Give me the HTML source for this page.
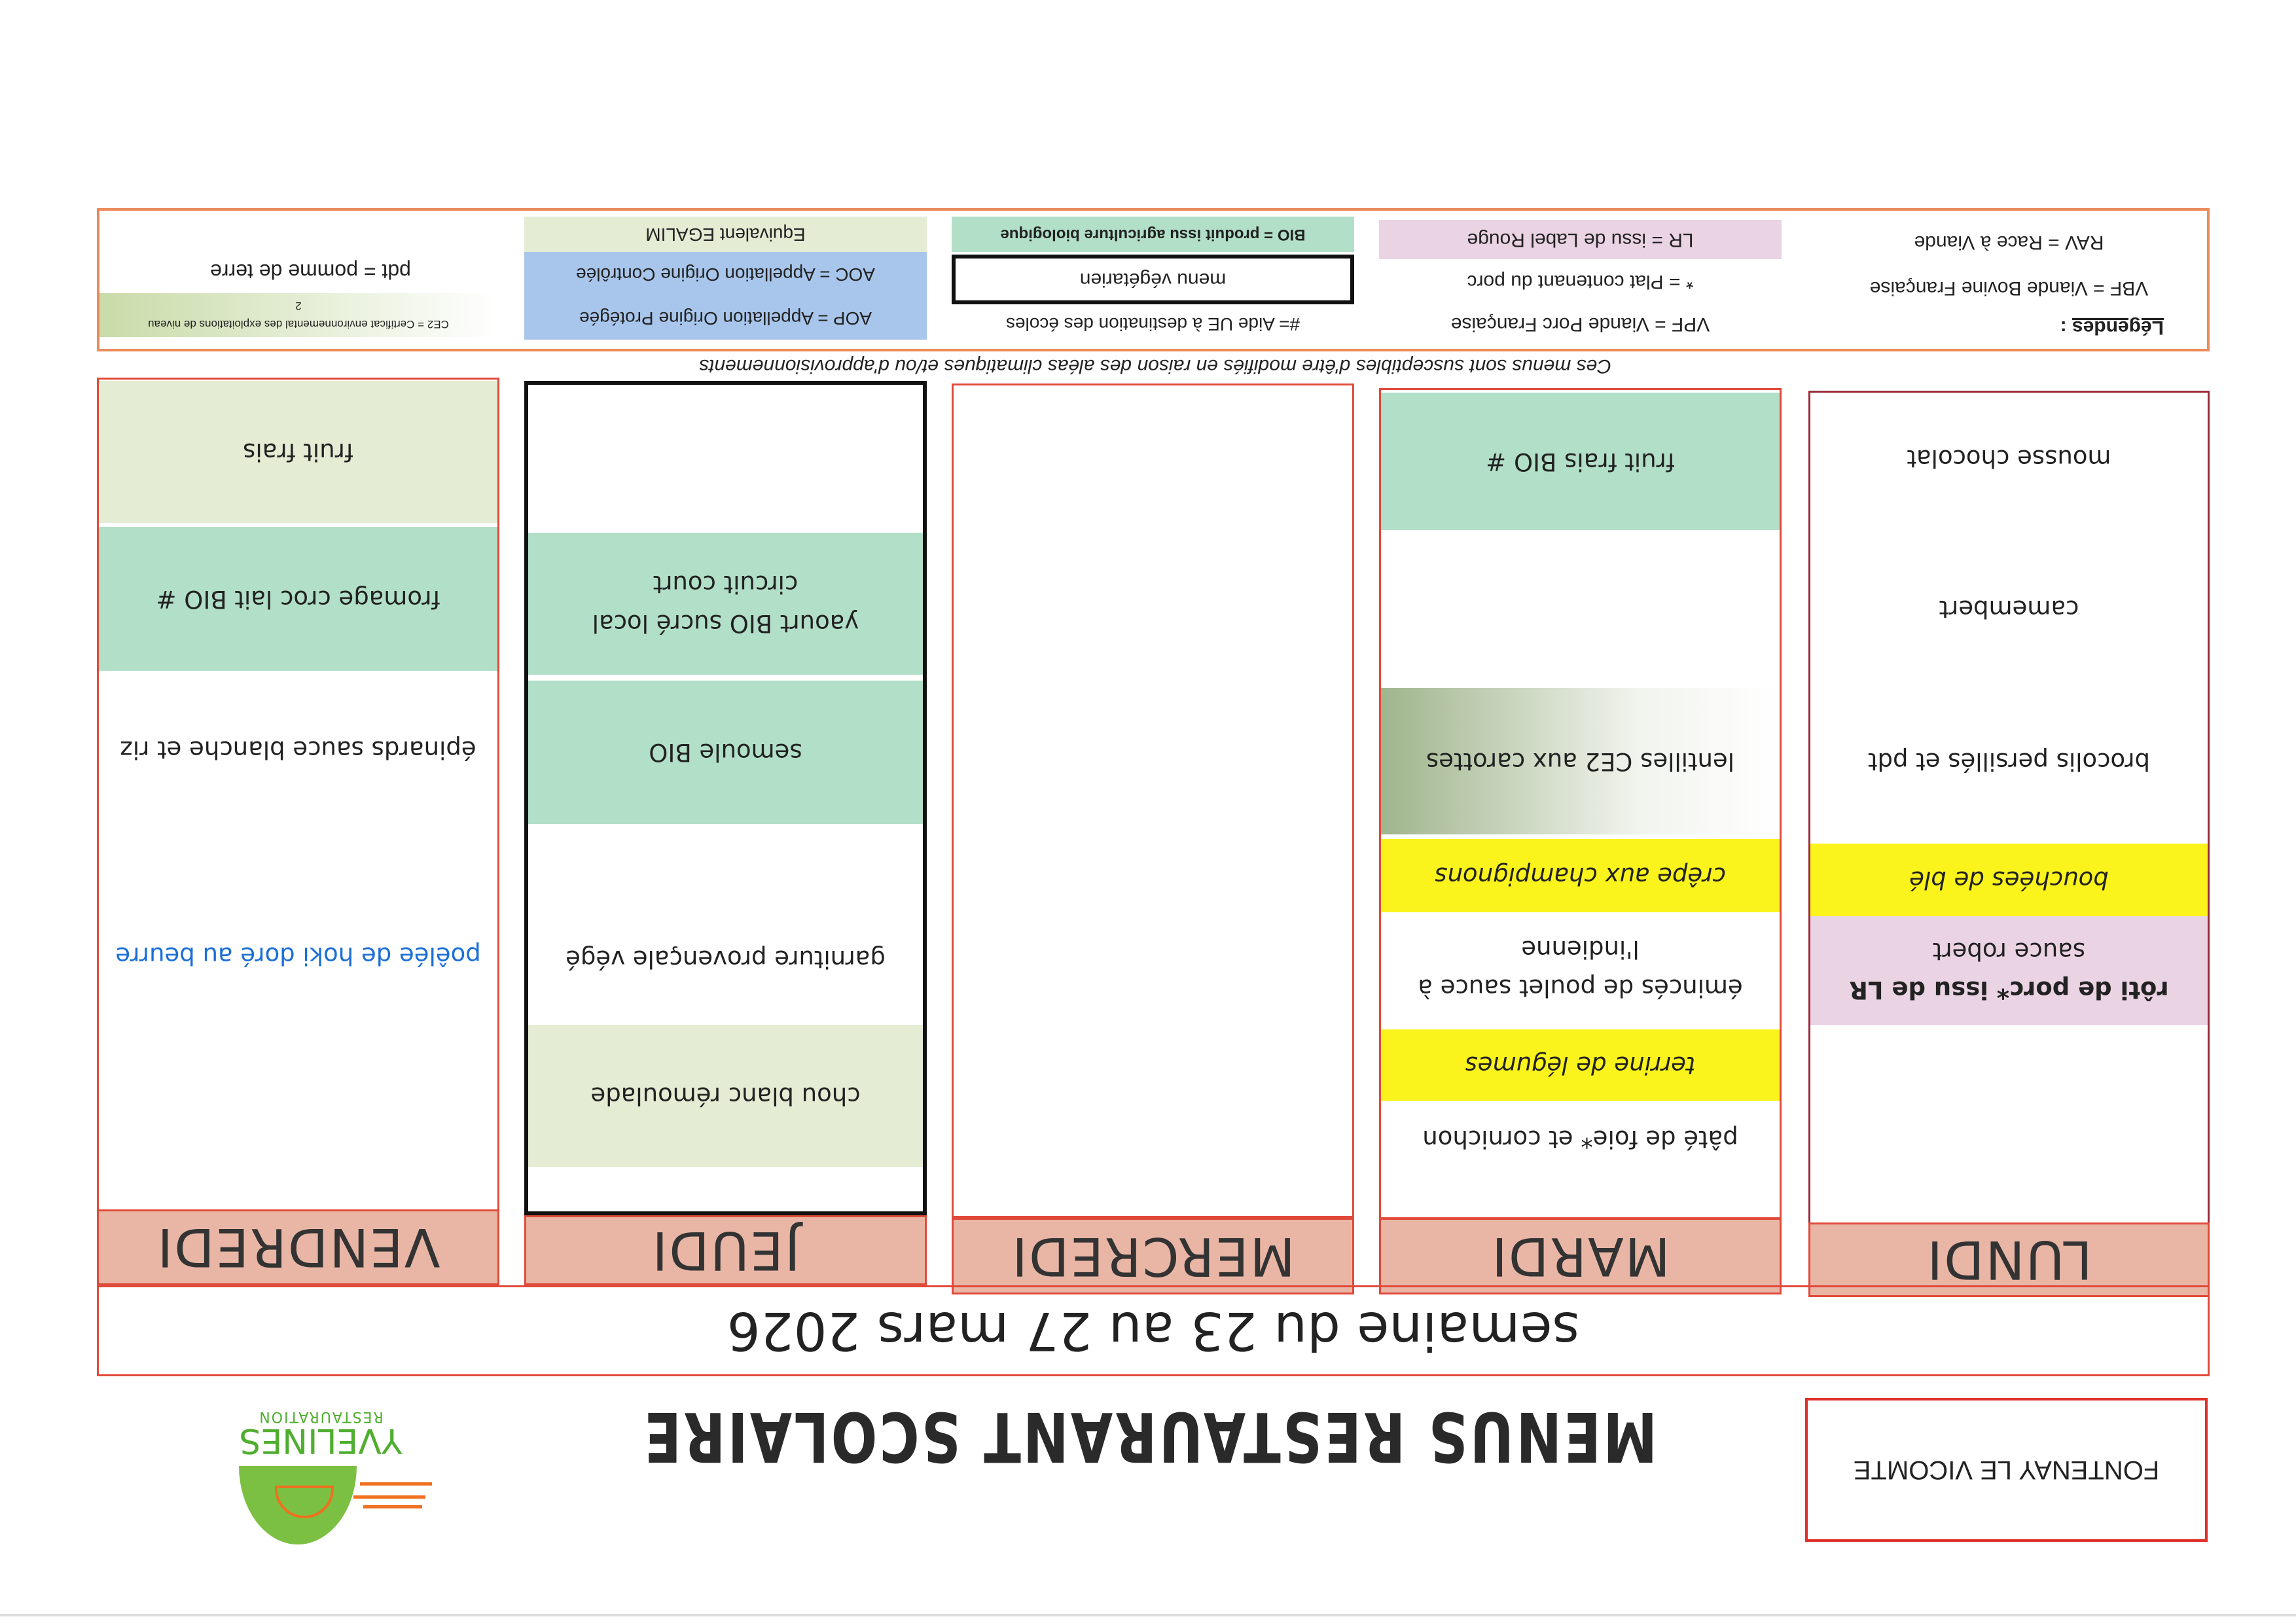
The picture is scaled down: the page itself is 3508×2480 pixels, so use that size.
<!DOCTYPE html>
<html><head><meta charset="utf-8"><style>
*{box-sizing:border-box;margin:0;padding:0}
body{width:3508px;height:2480px;background:#fff;position:relative;overflow:hidden;font-family:"DejaVu Sans","Liberation Sans",sans-serif;color:#222}
.b{position:absolute;display:flex;align-items:center;justify-content:center;text-align:center;transform:rotate(180deg)}
.t{font-size:37px;line-height:1.6}
.lg{font-size:28px;font-family:"Liberation Sans",sans-serif}
.day{font-size:80px;color:#333;letter-spacing:2px;background:#e9b6a6;border:3px solid #e04a3a}
.mint{background:#b2dfc8}
.lgreen{background:#e4ecd4}
.yel{background:#fbf41c}
.pink{background:#ead3e3}
.col{position:absolute;border:3px solid #e04a3a;background:#fff}
</style></head><body>

<!-- legend -->
<div class="col" style="left:148px;top:318px;width:3228px;height:219px;border-color:#ec8a5a;border-width:4px"></div>
<div class="b lgreen lg" style="left:801px;top:331px;width:615px;height:54px">Equivalent EGALIM</div>
<div class="b lg" style="left:801px;top:385px;width:615px;height:69px;background:#a8c6ec">AOC = Appellation Origine Contrôlée</div>
<div class="b lg" style="left:801px;top:454px;width:615px;height:65px;background:#a8c6ec">AOP = Appellation Origine Protégée</div>
<div class="b mint lg" style="left:1454px;top:331px;width:615px;height:54px;font-weight:bold;font-size:24px">BIO = produit issu agriculture biologique</div>
<div class="b lg" style="left:1454px;top:389px;width:615px;height:76px;border:6px solid #111;font-size:30px">menu végétarien</div>
<div class="b lg" style="left:1454px;top:470px;width:615px;height:50px">#= Aide UE à destination des écoles</div>
<div class="b pink lg" style="left:2107px;top:336px;width:615px;height:60px;font-size:30px">LR = issu de Label Rouge</div>
<div class="b lg" style="left:2107px;top:405px;width:615px;height:50px;font-size:30px">* = Plat contenant du porc</div>
<div class="b lg" style="left:2107px;top:470px;width:615px;height:50px;font-size:30px">VPF = Viande Porc Française</div>
<div class="b lg" style="left:2763px;top:345px;width:613px;height:50px;font-size:30px">RAV = Race à Viande</div>
<div class="b lg" style="left:2763px;top:415px;width:613px;height:50px;font-size:30px">VBF = Viande Bovine Française</div>
<div class="b lg" style="left:2763px;top:475px;width:613px;height:50px;justify-content:flex-start;padding-left:70px;font-size:30px"><b><u>Légendes</u> :</b></div>
<div class="b lg" style="left:148px;top:390px;width:653px;height:50px;font-size:32px">pdt = pomme de terre</div>
<div class="b" style="left:152px;top:448px;width:608px;height:67px;background:linear-gradient(to right,#fff,#c9dba8);font-size:17px;line-height:1.6;font-family:'Liberation Sans',sans-serif">CE2 = Certificat environnemental des exploitations de niveau<br>2</div>

<div class="b" style="left:940px;top:535px;width:1650px;height:48px;font-style:italic;font-size:30px;font-family:'Liberation Sans',sans-serif">Ces menus sont susceptibles d'être modifiés en raison des aléas climatiques et/ou d'approvisionnements</div>

<!-- VENDREDI -->
<div class="col" style="left:148px;top:577px;width:615px;height:1275px"></div>
<div class="b lgreen t" style="left:151px;top:582px;width:609px;height:217px">fruit frais</div>
<div class="b mint t" style="left:151px;top:805px;width:609px;height:220px">fromage croc lait BIO #</div>
<div class="b t" style="left:151px;top:1100px;width:609px;height:90px">épinards sauce blanche et riz</div>
<div class="b t" style="left:151px;top:1415px;width:609px;height:90px;color:#1a6fd6">poêlée de hoki doré au beurre</div>
<div class="b day" style="left:148px;top:1848px;width:615px;height:116px">VENDREDI</div>

<!-- JEUDI -->
<div class="col" style="left:801px;top:582px;width:615px;height:1275px;border:6px solid #111"></div>
<div class="b mint t" style="left:807px;top:814px;width:603px;height:217px">yaourt BIO sucré local<br>circuit court</div>
<div class="b mint t" style="left:807px;top:1040px;width:603px;height:219px">semoule BIO</div>
<div class="b t" style="left:807px;top:1420px;width:603px;height:90px">garniture provençale végé</div>
<div class="b lgreen t" style="left:807px;top:1566px;width:603px;height:217px">chou blanc rémoulade</div>
<div class="b day" style="left:801px;top:1857px;width:615px;height:107px">JEUDI</div>

<!-- MERCREDI -->
<div class="col" style="left:1454px;top:586px;width:615px;height:1275px"></div>
<div class="b day" style="left:1454px;top:1861px;width:615px;height:117px">MERCREDI</div>

<!-- MARDI -->
<div class="col" style="left:2107px;top:593px;width:615px;height:1270px"></div>
<div class="b mint t" style="left:2110px;top:600px;width:609px;height:210px">fruit frais BIO #</div>
<div class="b t" style="left:2110px;top:1051px;width:609px;height:224px;background:linear-gradient(to right,#fff,#f2f4ee 35%,#9fb58c)">lentilles CE2 aux carottes</div>
<div class="b yel t" style="left:2110px;top:1282px;width:609px;height:112px;font-style:italic">crêpe aux champignons</div>
<div class="b t" style="left:2110px;top:1400px;width:609px;height:160px">émincés de poulet sauce à<br>l'indienne</div>
<div class="b yel t" style="left:2110px;top:1573px;width:609px;height:109px;font-style:italic">terrine de légumes</div>
<div class="b t" style="left:2110px;top:1695px;width:609px;height:90px">pâté de foie* et cornichon</div>
<div class="b day" style="left:2107px;top:1861px;width:615px;height:117px">MARDI</div>

<!-- LUNDI -->
<div class="col" style="left:2763px;top:597px;width:613px;height:1275px;border-color:#9b2a3a"></div>
<div class="b t" style="left:2766px;top:655px;width:607px;height:90px">mousse chocolat</div>
<div class="b t" style="left:2766px;top:885px;width:607px;height:90px">camembert</div>
<div class="b t" style="left:2766px;top:1118px;width:607px;height:90px">brocolis persillés et pdt</div>
<div class="b yel t" style="left:2766px;top:1289px;width:607px;height:111px;font-style:italic">bouchées de blé</div>
<div class="b pink t" style="left:2766px;top:1400px;width:607px;height:166px"><span><b>rôti de porc* issu de LR</b><br>sauce robert</span></div>
<div class="b day" style="left:2763px;top:1868px;width:613px;height:114px">LUNDI</div>

<!-- title bar -->
<div class="b" style="left:148px;top:1964px;width:3228px;height:139px;border:3px solid #e04a3a;font-size:80px;color:#222">semaine du 23 au 27 mars 2026</div>

<!-- header -->
<div class="b" style="left:885px;top:2140px;width:1743px;height:110px;font-size:104px;font-weight:bold;color:#2a2a2a;letter-spacing:4px;white-space:nowrap"><span style="display:inline-block;transform:scaleX(0.8);white-space:nowrap">MENUS RESTAURANT SCOLAIRE</span></div>
<div class="b" style="left:2758px;top:2136px;width:615px;height:220px;border:4px solid #e0302a;font-size:40px;font-family:'Liberation Sans',sans-serif">FONTENAY LE VICOMTE</div>

<!-- logo -->
<div class="b" style="left:360px;top:2145px;width:260px;height:90px;color:#4fae2e;line-height:1"><span><span style="font-size:52px">YVELINES</span><br><span style="font-size:22px;letter-spacing:2px">RESTAURATION</span></span></div>
<div style="position:absolute;left:365px;top:2240px;width:180px;height:120px;background:#7cc043;border-radius:0 0 90px 90px/0 0 120px 120px"></div>
<div style="position:absolute;left:420px;top:2270px;width:90px;height:50px;border:4px solid #f07020;border-radius:0 0 45px 45px"></div>
<div style="position:absolute;left:550px;top:2265px;width:110px;height:5px;background:#f07020"></div>
<div style="position:absolute;left:540px;top:2285px;width:110px;height:5px;background:#f07020"></div>
<div style="position:absolute;left:555px;top:2300px;width:90px;height:5px;background:#f07020"></div>

<div style="position:absolute;left:0;top:2466px;width:3508px;height:4px;background:#ddd"></div>
</body></html>
